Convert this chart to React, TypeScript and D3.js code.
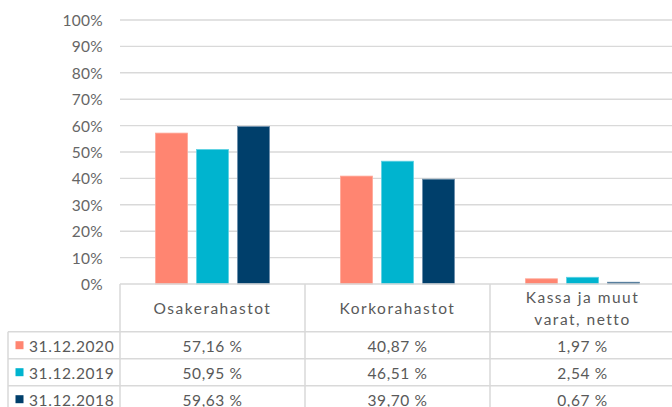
import React from "react";
import * as d3 from "d3";

// chart data
const categories = ["Osakerahastot", "Korkorahastot", "Kassa ja muut varat, netto"];
const categoryLines = [["Osakerahastot"], ["Korkorahastot"], ["Kassa ja muut", "varat, netto"]];
const series = ["31.12.2020", "31.12.2019", "31.12.2018"];
const values2020 = [57.16, 40.87, 1.97];
const values2019 = [50.95, 46.51, 2.54];
const values2018 = [59.63, 39.7, 0.67];
const yTicks = [0, 10, 20, 30, 40, 50, 60, 70, 80, 90, 100];

const colors = ["#FF8571", "#00B4CF", "#003F6B"];
const strokes = ["#FFA797", "#5CD1E3", "#6A8CAA"];
const gridColor = "#D9D9D9";
const textColor = "#595959";
const font = "Lato, 'Open Sans', sans-serif";

const size = {
  width: 672,
  height: 407,
  left: 120,
  right: 675,
  top: 20,
  bottom: 284,
  headerBottom: 331.7,
  rowH: 27,
  legendLeft: 8,
};

const App = () => {
  const allValues = [values2020, values2019, values2018];

  const x = d3.scaleBand().domain(categories).range([size.left, size.right]).padding(0);
  const xs = d3
    .scaleBand()
    .domain(series)
    .range([0, x.bandwidth()])
    .paddingInner(0.22)
    .paddingOuter(0.866);
  const y = d3.scaleLinear().domain([0, 100]).range([size.bottom, size.top]);
  const pct = d3.format(".0f");
  const fmt = (v) => d3.format(".2f")(v).replace(".", ",") + " %";

  const rowTop = (i) => size.headerBottom + i * size.rowH;
  const tableBottom = rowTop(series.length) + 2;

  return (
    <svg
      width={size.width}
      height={size.height}
      style={{ position: "absolute", left: 0, top: 0, background: "#fff" }}
      fontFamily={font}
    >
      {/* grid + y axis labels */}
      {yTicks.map((t) => (
        <g key={t}>
          {t > 0 && (
            <line x1={size.left} x2={size.width} y1={y(t)} y2={y(t)} stroke={gridColor} strokeWidth={1.4} />
          )}
          <text
            x={103}
            y={y(t)}
            textAnchor="end"
            dominantBaseline="central"
            fontSize={15.5}
            fill="#666"
            letterSpacing={0.3}
          >
            {pct(t) + "%"}
          </text>
        </g>
      ))}

      {/* bars */}
      {categories.map((c, ci) => (
        <g key={c} transform={`translate(${x(c)},0)`}>
          {series.map((s, si) => {
            const v = allValues[si][ci];
            return (
              <rect
                key={s}
                x={xs(s)}
                y={y(v)}
                width={xs.bandwidth()}
                height={y(0) - y(v)}
                fill={colors[si]}
                stroke={strokes[si]}
                strokeWidth={0.8}
              />
            );
          })}
        </g>
      ))}

      {/* data table lines */}
      <g stroke={gridColor} strokeWidth={1.5}>
        <line x1={size.left} x2={size.width} y1={size.bottom} y2={size.bottom} />
        {series.map((s, i) => (
          <line key={s} x1={size.legendLeft} x2={size.width} y1={rowTop(i)} y2={rowTop(i)} />
        ))}
        <line x1={size.legendLeft} x2={size.legendLeft} y1={size.headerBottom} y2={tableBottom} />
        {categories.map((c) => (
          <line key={c} x1={x(c)} x2={x(c)} y1={size.bottom} y2={tableBottom} />
        ))}
      </g>

      {/* header labels */}
      {categories.map((c, ci) => {
        const lines = categoryLines[ci];
        const cy = (size.bottom + size.headerBottom) / 2;
        return (
          <text
            key={c}
            x={x(c) + x.bandwidth() / 2}
            textAnchor="middle"
            fontSize={15.5}
            fill={textColor}
            letterSpacing={1.5}
          >
            {lines.map((l, li) => (
              <tspan key={li} x={x(c) + x.bandwidth() / 2} y={cy + (li - (lines.length - 1) / 2) * 21.5} dominantBaseline="central">
                {l}
              </tspan>
            ))}
          </text>
        );
      })}

      {/* rows */}
      {series.map((s, si) => {
        const cy = rowTop(si) + size.rowH / 2 + 0.5;
        return (
          <g key={s}>
            <rect x={15.5} y={cy - 4.5} width={8} height={8} fill={colors[si]} />
            <text x={29} y={cy} dominantBaseline="central" fontSize={15.5} fill={textColor} letterSpacing={0.6}>
              {s}
            </text>
            {categories.map((c, ci) => (
              <text
                key={c}
                x={x(c) + x.bandwidth() / 2}
                y={cy}
                textAnchor="middle"
                dominantBaseline="central"
                fontSize={15.5}
                fill={textColor}
                letterSpacing={0.6}
              >
                {fmt(allValues[si][ci])}
              </text>
            ))}
          </g>
        );
      })}
    </svg>
  );
};

export default App;
